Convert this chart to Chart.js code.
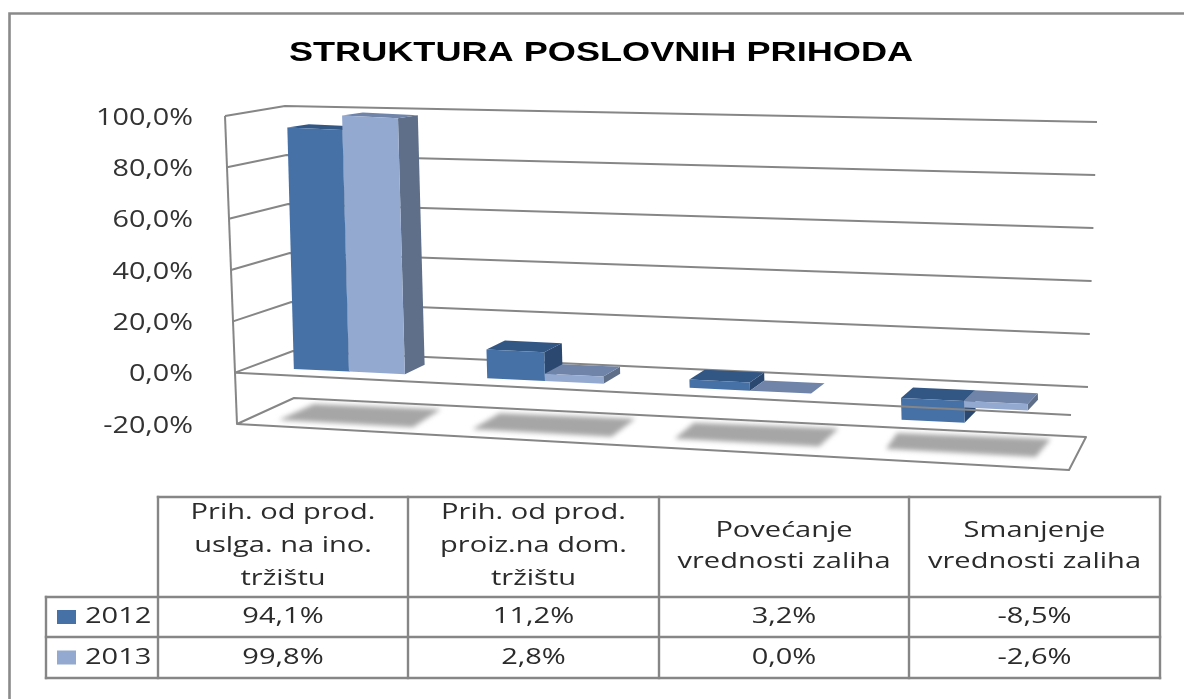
<!DOCTYPE html>
<html><head><meta charset="utf-8">
<style>html,body{margin:0;padding:0;background:#fff;overflow:hidden}canvas{display:block}</style>
<script src="https://cdn.jsdelivr.net/npm/chart.js@4/dist/chart.umd.min.js"></script>
</head><body><canvas id="c" width="1184" height="699"></canvas>
<script>
const chartTitle = "STRUKTURA POSLOVNIH PRIHODA";
const categories = [
  ["Prih. od prod.", "uslga. na ino.", "tržištu"],
  ["Prih. od prod.", "proiz.na dom.", "tržištu"],
  ["Povećanje", "vrednosti zaliha"],
  ["Smanjenje", "vrednosti zaliha"]
];
const seriesNames = ["2012", "2013"];
const values2012 = [94.1, 11.2, 3.2, -8.5];
const values2013 = [99.8, 2.8, 0.0, -2.6];
const axisMin = -20, axisMax = 100, axisStep = 20;

const LINE = "#868686";
const FACE = [
  {front:"#4571A7", top:"#335784", side:"#2B4870"},
  {front:"#94A9D0", top:"#6F84A8", side:"#5F6F8A"}
];
const fmt = v => v.toFixed(1).replace(".", ",") + "%";

function stretched(ctx, s, x, y, font, sx, align, color){
  ctx.save();
  ctx.font = font; ctx.fillStyle = color; ctx.textBaseline = "middle"; ctx.textAlign = align;
  ctx.translate(x, y); ctx.scale(sx, 1); ctx.fillText(s, 0, 0);
  ctx.restore();
}
function polyline(ctx, pts, close){
  ctx.beginPath();
  pts.forEach((p,i)=> i ? ctx.lineTo(p[0],p[1]) : ctx.moveTo(p[0],p[1]));
  if(close) ctx.closePath();
}

/* 3-D look: map a (scale x, scale y) pixel into the oblique bar plane */
function geom(chart){
  const xs = chart.scales.x, ys = chart.scales.y;
  const zero = ys.getPixelForValue(0);
  const c0 = xs.getPixelForValue(0), step = xs.getPixelForValue(1) - c0;
  const groundY = X => 369 + 0.0476*(X-294);
  const proj = (u,p) => {
    const t = (u-c0)/step;
    const X0 = 349 + 191.5*t + 4.5*t*t;
    return [X0 + 0.027*(p-zero), groundY(X0) + (p-zero)];
  };
  const depth = (X,p) => [26 - 0.0155*X, -9.5 + 0.0254*(zero-p) - 0.002*(X-400)];
  return {xs,ys,zero,proj,depth,groundY};
}

const plugin3d = {
  id:"plugin3d",
  beforeDatasetsDraw(chart){
    const ctx = chart.ctx, g = geom(chart), ys = g.ys;
    const bottom = ys.getPixelForValue(axisMin), top = ys.getPixelForValue(axisMax), zero = g.zero;
    // frame: only top and left edges are inside the picture
    ctx.save();
    ctx.strokeStyle = "#8a8a8a"; ctx.lineWidth = 2.6;
    polyline(ctx,[[9.5,699],[9.5,13.5],[1184,13.5]]); ctx.stroke();
    // walls
    ctx.strokeStyle = LINE; ctx.lineWidth = 2; ctx.lineJoin="round";
    const frontX = p => 237 - 12*(bottom-p)/(bottom-top);
    const backX  = p => 285 + 8*(p-top)/(zero-top);
    const backY  = p => 106 + 245*(p-top)/(zero-top);
    const rightX = p => 1097 - 9*(p-top)/(zero-top);
    const rightY = p => 122 + 265*(p-top)/(zero-top);
    polyline(ctx,[[frontX(top),top],[frontX(bottom),bottom]]); ctx.stroke();
    ys.ticks.forEach(t=>{
      if(t.value < 0) return;
      const p = ys.getPixelForValue(t.value);
      polyline(ctx,[[frontX(p),p],[backX(p),backY(p)],[rightX(p),rightY(p)]]); ctx.stroke();
    });
    // floor
    polyline(ctx,[[frontX(bottom),bottom],[294,398],[1086,437],[1069,470]],true); ctx.stroke();
    ctx.restore();
    // shadows
    const metas = [chart.getDatasetMeta(0), chart.getDatasetMeta(1)];
    ctx.save();
    ctx.filter = "blur(2.5px)";
    ctx.fillStyle = "#A6A6A6";
    categories.forEach((c,i)=>{
      const a = metas[0].data[i], b = metas[1].data[i];
      const XL = g.proj(a.x-a.width/2, zero)[0], XR = g.proj(b.x+b.width/2, zero)[0];
      const dL = 20 - 24*(XL-294)/609, dR = 36 - 13*(XR-405)/622;
      const S = [[XL-15,g.groundY(XL)+51],[XR+8,g.groundY(XR)+53],[XR+dR,g.groundY(XR)+35],[XL+dL,g.groundY(XL)+35]];
      polyline(ctx,S,true); ctx.fill();
    });
    ctx.restore();
    // bars: library elements, each under a local oblique transform, plus extruded faces
    metas.forEach((meta,ds)=>{
      meta.data.forEach(el=>{
        const ul = el.x-el.width/2, ur = el.x+el.width/2;
        const pt = Math.min(el.y,el.base), pb = Math.max(el.y,el.base);
        const A = g.proj(ul,pt), B = g.proj(ur,pt), C = g.proj(ur,pb);
        const da = g.depth(A[0],pt), db = g.depth(B[0],pt), dc = g.depth(C[0],pb);
        const A2=[A[0]+da[0],A[1]+da[1]], B2=[B[0]+db[0],B[1]+db[1]], C2=[C[0]+dc[0],C[1]+dc[1]];
        polyline(ctx,[B,B2,C2,C],true); ctx.fillStyle = FACE[ds].side; ctx.fill();
        polyline(ctx,[A,B,B2,A2],true); ctx.fillStyle = FACE[ds].top; ctx.fill();
        const P00=g.proj(ul,top), P10=g.proj(ur,top), P01=g.proj(ul,bottom);
        const a=(P10[0]-P00[0])/(ur-ul), b=(P10[1]-P00[1])/(ur-ul);
        const c=(P01[0]-P00[0])/(bottom-top), d=(P01[1]-P00[1])/(bottom-top);
        ctx.save();
        ctx.transform(a,b,c,d,P00[0]-a*ul-c*top,P00[1]-b*ul-d*top);
        el.draw(ctx);
        ctx.restore();
      });
    });
  },
  beforeDatasetDraw(){ return false; },
  afterDatasetsDraw(chart){
    const ctx = chart.ctx, ys = geom(chart).ys, zero = geom(chart).zero;
    // front zero line passes over the bars
    ctx.save();
    ctx.strokeStyle = LINE; ctx.lineWidth = 2;
    polyline(ctx,[[236,zero],[1071,415]]); ctx.stroke();
    ctx.restore();
    // axis labels
    ys.ticks.forEach(t=>{
      stretched(ctx, fmt(t.value), 193, ys.getPixelForValue(t.value)+2, "23px 'Open Sans'", 1.25, "right", "#333");
    });
    // title
    stretched(ctx, chartTitle, 601, 53, "bold 28px 'Liberation Sans'", 1.29, "center", "#000");
    // data table
    const colX = [158,408,659,909,1160], rowY=[497,597,637,678], left=46;
    ctx.save();
    ctx.strokeStyle = LINE; ctx.lineWidth = 2.4; ctx.lineCap = "square";
    polyline(ctx,[[colX[0],rowY[0]],[colX[4],rowY[0]]]); ctx.stroke();
    polyline(ctx,[[left,rowY[1]],[colX[4],rowY[1]]]); ctx.stroke();
    polyline(ctx,[[left,rowY[2]],[colX[4],rowY[2]]]); ctx.stroke();
    polyline(ctx,[[left,rowY[3]],[colX[4],rowY[3]]]); ctx.stroke();
    polyline(ctx,[[left,rowY[1]],[left,rowY[3]]]); ctx.stroke();
    colX.forEach(x=>{ polyline(ctx,[[x,rowY[0]],[x,rowY[3]]]); ctx.stroke(); });
    ctx.restore();
    const F = "22.5px 'Open Sans'", SX = 1.29, TC = "#2b2b2b";
    categories.forEach((lines,i)=>{
      const cx = (colX[i]+colX[i+1])/2, lh = lines.length===3 ? 33 : 31;
      const y0 = lines.length===3 ? 513 : 531;
      lines.forEach((s,k)=> stretched(ctx,s,cx,y0+k*lh,F,SX,"center",TC));
    });
    [values2012,values2013].forEach((vals,r)=>{
      const cy = (rowY[r+1]+rowY[r+2])/2;
      ctx.fillStyle = FACE[r].front;
      ctx.fillRect(57,cy-7,19,14);
      stretched(ctx,seriesNames[r],85,cy,F,SX,"left",TC);
      vals.forEach((v,i)=> stretched(ctx,fmt(v),(colX[i]+colX[i+1])/2,cy,F,SX,"center",TC));
    });
  }
};

new Chart(document.getElementById("c"),{
  type:"bar",
  data:{
    labels:categories,
    datasets:[
      {label:seriesNames[0],data:values2012,backgroundColor:FACE[0].front},
      {label:seriesNames[1],data:values2013,backgroundColor:FACE[1].front}
    ]
  },
  options:{
    responsive:false,animation:false,
    layout:{padding:{left:236,top:116,right:114,bottom:275}},
    datasets:{bar:{barPercentage:1,categoryPercentage:0.58}},
    plugins:{legend:{display:false},title:{display:false},tooltip:{enabled:false}},
    scales:{
      x:{display:false},
      y:{display:false,min:axisMin,max:axisMax,ticks:{stepSize:axisStep}}
    }
  },
  plugins:[plugin3d]
});
</script></body></html>
